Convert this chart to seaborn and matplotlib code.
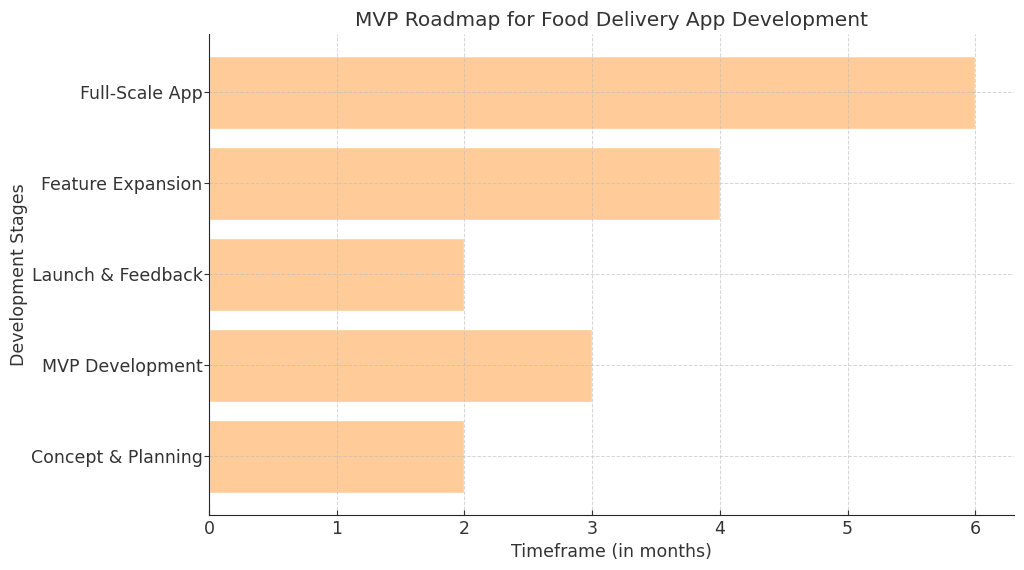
import matplotlib
matplotlib.use("Agg")
import matplotlib.pyplot as plt
import seaborn as sns
import pandas as pd

# stages in chronological order and their duration in months
stages = [
    "Concept & Planning",
    "MVP Development",
    "Launch & Feedback",
    "Feature Expansion",
    "Full-Scale App",
]
months = [2, 3, 2, 4, 6]

df = pd.DataFrame({"stage": stages, "months": months})

sns.set_style("ticks")
plt.rcParams["font.family"] = ["DejaVu Sans"]
plt.rcParams["text.color"] = "#333333"
plt.rcParams["axes.labelcolor"] = "#333333"
plt.rcParams["xtick.color"] = "#333333"
plt.rcParams["ytick.color"] = "#333333"

fig, ax = plt.subplots(figsize=(10.24, 5.7), dpi=100)
sns.barplot(
    data=df,
    x="months",
    y="stage",
    order=stages[::-1],
    orient="h",
    color="#ffcc99",
    saturation=1,
    width=0.8,
    ax=ax,
)
ax.set_xlim(0, 6.3)
ax.set_ylim(4.64, -0.64)
ax.set_title("MVP Roadmap for Food Delivery App Development", fontsize=14.5, color="#333333")
ax.set_xlabel("Timeframe (in months)", fontsize=12.5)
ax.set_ylabel("Development Stages", fontsize=12.5, labelpad=2)
ax.tick_params(axis="both", labelsize=12.5)
ax.tick_params(axis="x", direction="in")
ax.tick_params(axis="y", pad=1)
# grid sits on top of the bars but faint
ax.set_axisbelow(False)
ax.grid(True, linestyle="--", color="#bbbbbb", linewidth=0.7, alpha=0.6)
sns.despine(ax=ax)
for sp in ax.spines.values():
    sp.set_zorder(4)

plt.subplots_adjust(left=0.204, right=0.99, top=0.94, bottom=0.097)
plt.savefig("out.png", dpi=100)
